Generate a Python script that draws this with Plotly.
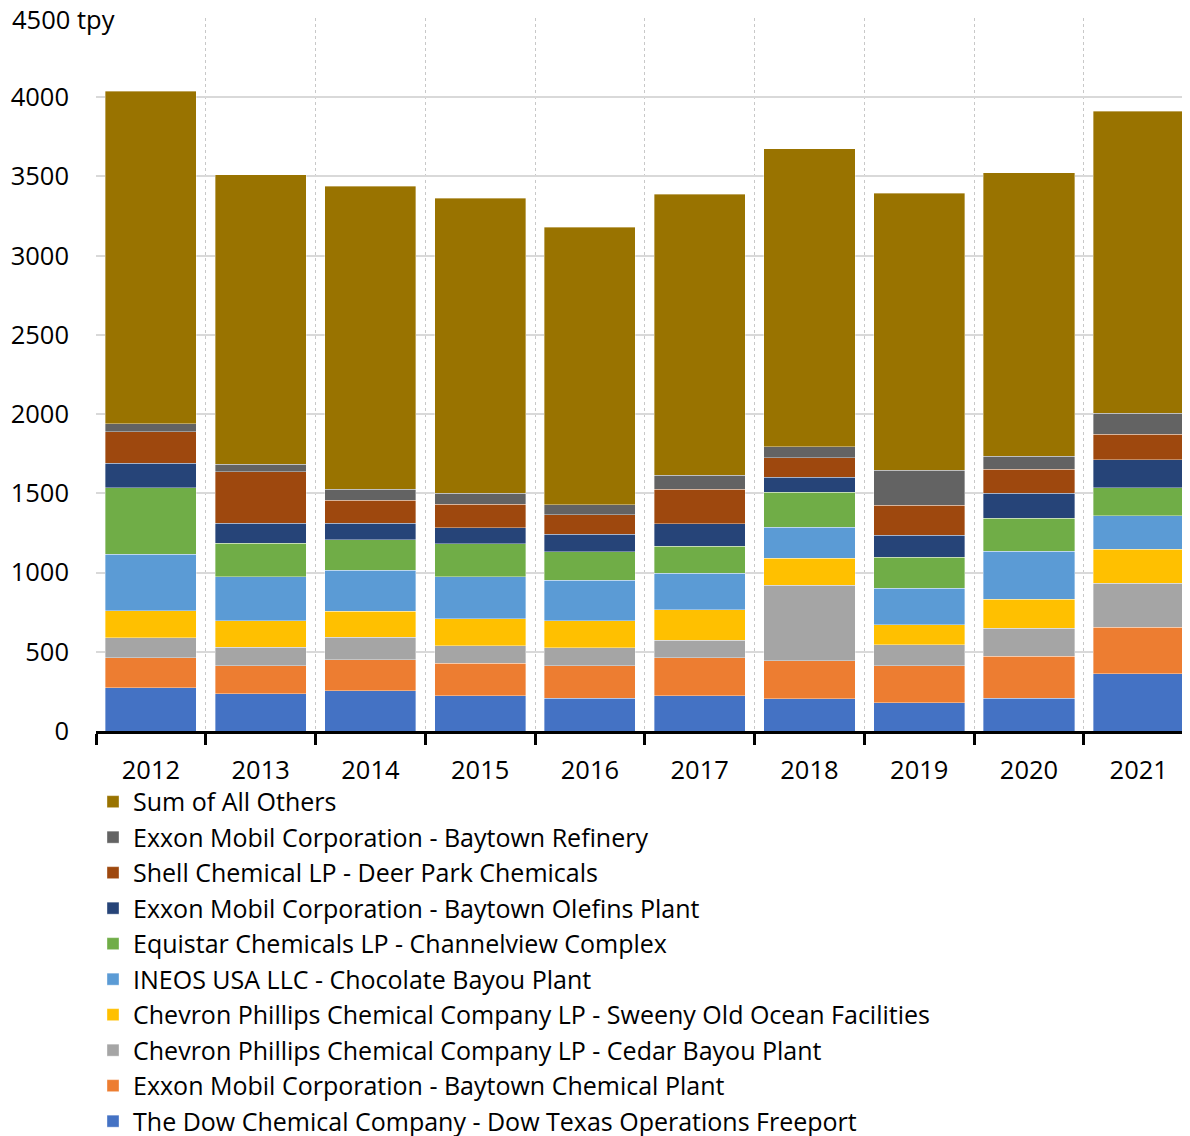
import plotly.graph_objects as go

years = ["2012", "2013", "2014", "2015", "2016", "2017", "2018", "2019", "2020", "2021"]

dow_freeport = [273, 235, 254, 223, 206, 223, 202, 179, 206, 362]
exxon_chemical = [189, 177, 196, 204, 206, 239, 240, 233, 267, 292]
cpchem_cedar_bayou = [127, 116, 143, 111, 112, 110, 479, 131, 177, 278]
cpchem_sweeny = [170, 168, 162, 169, 172, 193, 170, 128, 183, 214]
ineos_chocolate_bayou = [356, 278, 259, 265, 257, 232, 194, 231, 301, 212]
equistar_channelview = [420, 212, 193, 210, 178, 168, 221, 196, 208, 177]
exxon_olefins = [156, 126, 105, 101, 112, 143, 97, 139, 160, 177]
shell_deer_park = [197, 324, 145, 147, 122, 217, 122, 189, 149, 162]
exxon_refinery = [51, 47, 70, 70, 63, 90, 69, 221, 82, 130]
all_others = [2099, 1829, 1911, 1861, 1752, 1773, 1882, 1747, 1789, 1906]

series_names = [
    "The Dow Chemical Company - Dow Texas Operations Freeport",
    "Exxon Mobil Corporation - Baytown Chemical Plant",
    "Chevron Phillips Chemical Company LP - Cedar Bayou Plant",
    "Chevron Phillips Chemical Company LP - Sweeny Old Ocean Facilities",
    "INEOS USA LLC - Chocolate Bayou Plant",
    "Equistar Chemicals LP - Channelview Complex",
    "Exxon Mobil Corporation - Baytown Olefins Plant",
    "Shell Chemical LP - Deer Park Chemicals",
    "Exxon Mobil Corporation - Baytown Refinery",
    "Sum of All Others",
]
series_values = [
    dow_freeport, exxon_chemical, cpchem_cedar_bayou, cpchem_sweeny,
    ineos_chocolate_bayou, equistar_channelview, exxon_olefins,
    shell_deer_park, exxon_refinery, all_others,
]
series_colors = [
    "#4472C4", "#ED7D31", "#A5A5A5", "#FFC000", "#5B9BD5",
    "#70AD47", "#264478", "#9E480E", "#636363", "#997300",
]

y_ticks = [0, 500, 1000, 1500, 2000, 2500, 3000, 3500, 4000]

FONT = "Open Sans"
FS = 25.5
LEG_FS = 25

fig = go.Figure()
for name, vals, col in zip(series_names, series_values, series_colors):
    fig.add_trace(go.Bar(
        x=years, y=vals, name=name,
        marker=dict(color=col, line=dict(color="rgba(255,255,255,0.45)", width=0.8)),
    ))

fig.update_layout(
    width=1190, height=1136,
    barmode="stack", bargap=0.17,
    plot_bgcolor="white", paper_bgcolor="white",
    margin=dict(l=88, r=0, t=10, b=413, autoexpand=False),
    font=dict(family=FONT, size=FS, color="black"),
    legend=dict(
        orientation="v", traceorder="reversed",
        x=-0.0027, xanchor="left", y=-0.0672, yanchor="top",
        font=dict(family=FONT, size=LEG_FS, color="black"),
        itemwidth=30, tracegroupgap=0, bgcolor="rgba(0,0,0,0)",
    ),
    xaxis=dict(
        type="category", range=[-0.5, 9.54],
        tickson="boundaries", ticks="outside", ticklen=11, tickwidth=3, tickcolor="black",
        showline=True, linecolor="black", linewidth=3,
        showgrid=True, gridcolor="#C8C8C8", griddash="dot", gridwidth=1,
        ticklabelstandoff=14,
        tickfont=dict(family=FONT, size=FS),
    ),
    yaxis=dict(
        range=[0, 4500], tickvals=y_ticks,
        showgrid=True, gridcolor="#D9D9D9", gridwidth=1.5,
        showline=False, zeroline=False, ticks="",
        ticklabelstandoff=26,
        tickfont=dict(family=FONT, size=FS),
    ),
    annotations=[dict(
        text="4500 tpy", xref="paper", yref="y", x=-0.078, y=4500,
        xanchor="left", yanchor="middle", yshift=-1, showarrow=False,
        bgcolor="white", borderpad=1,
        font=dict(family=FONT, size=FS, color="black"),
    )],
)

fig.write_html("out.html")
